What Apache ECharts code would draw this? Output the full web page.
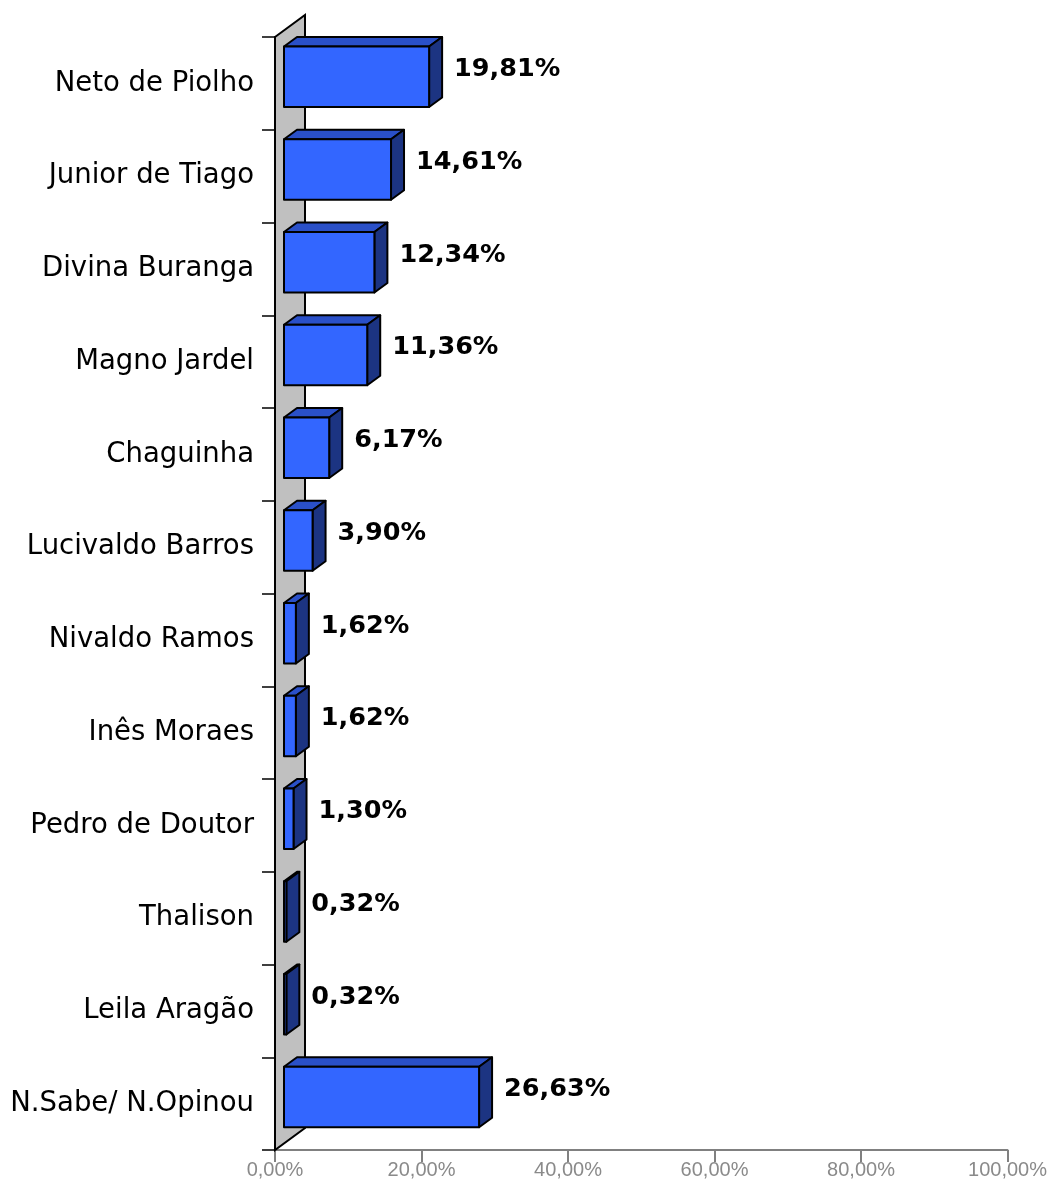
<!DOCTYPE html>
<html>
<head>
<meta charset="utf-8">
<script src="https://cdn.jsdelivr.net/npm/echarts@6/dist/echarts.min.js"></script>
<style>
  html, body { margin: 0; padding: 0; background: #fff; }
  #main { width: 1050px; height: 1193px; }
</style>
</head>
<body>
<div id="main"></div>
<script>
// candidatos, de cima para baixo
var nomes = ['Neto de Piolho', 'Junior de Tiago', 'Divina Buranga', 'Magno Jardel', 'Chaguinha',
  'Lucivaldo Barros', 'Nivaldo Ramos', 'Inês Moraes', 'Pedro de Doutor', 'Thalison',
  'Leila Aragão', 'N.Sabe/ N.Opinou'];
var percentuais = [19.81, 14.61, 12.34, 11.36, 6.17, 3.90, 1.62, 1.62, 1.30, 0.32, 0.32, 26.63];
var escalaX = [0, 20, 40, 60, 80, 100];

var fmt = function (v, casas) { return v.toFixed(casas).replace('.', ',') + '%'; };

// efeito 3D (px)
var PAREDE = [30, -22];   // profundidade da parede
var FRENTE = [9, -6.6];   // face frontal da barra
var FUNDO = [13, -9.5];   // profundidade da barra

var myChart = echarts.init(document.getElementById('main'));

myChart.setOption({
  backgroundColor: '#fff',
  animation: false,
  grid: { left: 275, right: 41, top: 37, bottom: 43, containLabel: false },
  xAxis: {
    type: 'value',
    min: escalaX[0], max: escalaX[escalaX.length - 1], interval: 20,
    axisLine: { show: true, lineStyle: { color: '#808080', width: 2 } },
    axisTick: { show: true, length: 12, lineStyle: { color: '#808080', width: 2 } },
    splitLine: { show: false },
    axisLabel: {
      margin: 10, color: '#8a8a8a', fontSize: 20, fontFamily: 'Liberation Sans',
      formatter: function (v) { return fmt(v, 2); }
    }
  },
  yAxis: {
    type: 'category',
    inverse: true,
    data: nomes,
    axisLine: { show: true, lineStyle: { color: '#000', width: 2 } },
    axisTick: { show: true, length: 13, lineStyle: { color: '#000', width: 1.5 } },
    axisLabel: { margin: 21, color: '#000', fontSize: 27.5, fontFamily: 'DejaVu Sans',
      padding: [7, 0, 0, 0] }
  },
  series: [
    {
      // parede lateral cinza
      type: 'custom',
      silent: true,
      data: [0],
      z: 1,
      renderItem: function (params, api) {
        var cs = params.coordSys;
        var x = cs.x, y = cs.y, h = cs.height;
        return {
          type: 'polygon',
          shape: { points: [[x, y], [x + PAREDE[0], y + PAREDE[1]],
            [x + PAREDE[0], y + h + PAREDE[1]], [x, y + h]] },
          style: { fill: '#c0c0c0', stroke: '#000', lineWidth: 2 }
        };
      }
    },
    {
      type: 'custom',
      z: 3,
      data: percentuais.map(function (v, i) { return [v, i]; }),
      encode: { x: 0, y: 1 },
      renderItem: function (params, api) {
        var v = api.value(0), i = api.value(1);
        var p0 = api.coord([0, i]);
        var p1 = api.coord([v, i]);
        var banda = api.size([0, 1])[1];
        var meia = banda * 0.326;
        var x0 = p0[0] + FRENTE[0], x1 = p1[0] + FRENTE[0];
        var yc = p0[1] + FRENTE[1];
        var yt = yc - meia, yb = yc + meia;
        var dx = FUNDO[0], dy = FUNDO[1];
        var borda = { stroke: '#000', lineWidth: 2, lineJoin: 'round' };
        return {
          type: 'group',
          children: [
            { type: 'polygon', shape: { points: [[x0, yt], [x1, yt], [x1 + dx, yt + dy], [x0 + dx, yt + dy]] },
              style: Object.assign({ fill: '#2a50c8' }, borda) },
            { type: 'polygon', shape: { points: [[x1, yt], [x1 + dx, yt + dy], [x1 + dx, yb + dy], [x1, yb]] },
              style: Object.assign({ fill: '#1c3482' }, borda) },
            { type: 'rect', shape: { x: x0, y: yt, width: x1 - x0, height: yb - yt },
              style: Object.assign({ fill: '#3366ff' }, borda) },
            { type: 'text', x: x1 + dx + 12, y: p0[1] - 14,
              style: { text: fmt(v, 2), fill: '#000', font: 'bold 25.5px "DejaVu Sans"',
                verticalAlign: 'middle', align: 'left' } }
          ]
        };
      }
    }
  ]
});
</script>
</body>
</html>
